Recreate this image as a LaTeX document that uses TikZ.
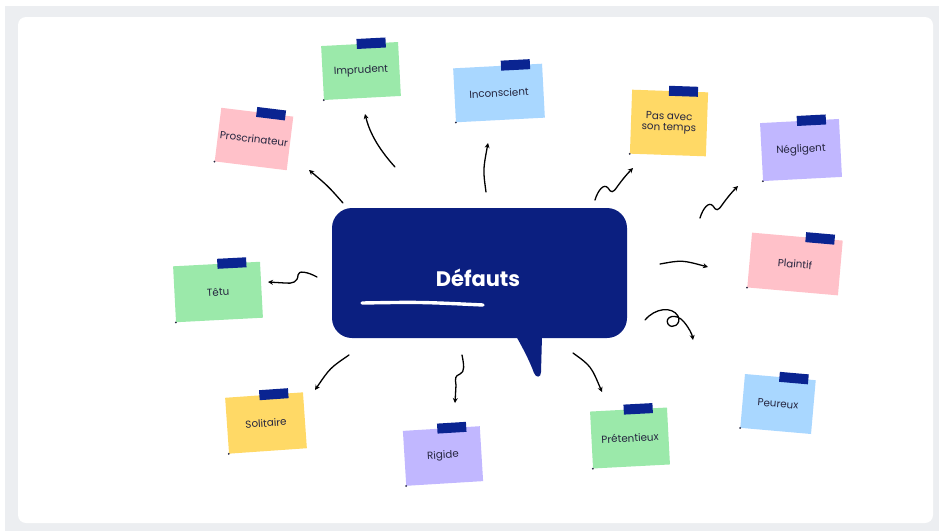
\documentclass[tikz,border=0pt]{standalone}
\usepackage{fontspec}
\setmainfont{Poppins}
\usetikzlibrary{calc}
\usetikzlibrary{positioning}
\usetikzlibrary{arrows.meta}

\definecolor{navy}{HTML}{0B1F80}
\definecolor{tapeblue}{HTML}{0A2491}
\definecolor{mint}{HTML}{9BE9AA}
\definecolor{rose}{HTML}{FFC1C9}
\definecolor{sky}{HTML}{A9D7FF}
\definecolor{butter}{HTML}{FFD966}
\definecolor{lilac}{HTML}{C1B7FF}
\definecolor{ink}{HTML}{25253F}
\definecolor{frame}{HTML}{ECEEF1}

\begin{document}
\begin{tikzpicture}[x=1pt, y=-1pt, >={Stealth[length=5pt,width=5pt]}, font=\fontsize{10.3}{11}\selectfont]
	\tikzstyle{note}=[rectangle, inner sep=2pt, text=ink, align=center]
	\tikzstyle{tape}=[rectangle, fill=tapeblue, minimum width=29pt, minimum height=10pt, inner sep=0pt]
	\tikzstyle{curl}=[circle, fill=ink, minimum size=2pt, inner sep=0pt]
	\tikzstyle{arrow}=[->, draw=black, line width=1.3pt, line cap=round]
	\tikzstyle{bubble}=[rectangle, fill=navy, rounded corners=20pt, minimum width=295pt, minimum height=130pt]

	\useasboundingbox (0,0) rectangle (939,531);
	\fill[frame] (5,6) rectangle (939,531);
	\fill[white, rounded corners=8pt] (18,17) rectangle (933,523);

	% speech bubble in the middle
	\node[bubble] (defauts) at (479.5,273) {};
	\fill[navy] (516,336) .. controls (524,350) and (530,362) .. (534,373) .. controls (536,378) and (541,378) .. (541,372) -- (542,336) -- cycle;
	\node[text=white, font=\fontsize{21}{25}\selectfont\bfseries] (titre) at (478,278) {Défauts};
	\draw[white, line width=3.4pt, line cap=round] (362,303) .. controls (420,302) .. (483,305);

	% sticky notes
	\node[note, fill=rose, minimum width=72pt, minimum height=54pt, rotate=-7] (proscri) at (254,139) {Proscrinateur};
	\node[note, fill=mint, minimum width=77pt, minimum height=54pt, rotate=3] (imprudent) at (361,71) {Imprudent};
	\node[note, fill=sky, minimum width=89pt, minimum height=54pt, rotate=3] (inconscient) at (499,93) {Inconscient};
	\node[note, fill=butter, minimum width=76pt, minimum height=64pt, rotate=-2] (pasavec) at (669,123) {Pas avec\\son temps};
	\node[note, fill=lilac, minimum width=79pt, minimum height=58pt, rotate=3] (negligent) at (801,150) {Négligent};
	\node[note, fill=rose, minimum width=91pt, minimum height=55pt, rotate=-5] (plaintif) at (795,264) {Plaintif};
	\node[note, fill=sky, minimum width=71pt, minimum height=54pt, rotate=-5] (peureux) at (778,404) {Peureux};
	\node[note, fill=mint, minimum width=77pt, minimum height=57pt, rotate=3] (pretentieux) at (630,438) {Prétentieux};
	\node[note, fill=lilac, minimum width=77pt, minimum height=55pt, rotate=3.5] (rigide) at (443,456) {Rigide};
	\node[note, fill=butter, minimum width=78pt, minimum height=56pt, rotate=4] (solitaire) at (266,423) {Solitaire};
	\node[note, fill=mint, minimum width=87pt, minimum height=56pt, rotate=3] (tetu) at (218,292) {Têtu};

	% tapes and corners
	\node[tape, rotate=-7] (proscritape) at ($(proscri.north)!0.38!(proscri.north east)$) {};
	\node[tape, rotate=3] (imprudenttape) at ($(imprudent.north)!0.3!(imprudent.north east)$) {};
	\node[tape, rotate=3] (inconscienttape) at ($(inconscient.north)!0.4!(inconscient.north east)$) {};
	\node[tape, rotate=-2] (pasavectape) at ($(pasavec.north)!0.35!(pasavec.north east)$) {};
	\node[tape, rotate=3] (negligenttape) at ($(negligent.north)!0.3!(negligent.north east)$) {};
	\node[tape, rotate=-5] (plaintiftape) at ($(plaintif.north)!0.5!(plaintif.north east)$) {};
	\node[tape, rotate=-5] (peureuxtape) at ($(peureux.north)!0.38!(peureux.north east)$) {};
	\node[tape, rotate=3] (pretentieuxtape) at ($(pretentieux.north)!0.25!(pretentieux.north east)$) {};
	\node[tape, rotate=3.5] (rigidetape) at ($(rigide.north)!0.27!(rigide.north east)$) {};
	\node[tape, rotate=4] (solitairetape) at ($(solitaire.north)!0.25!(solitaire.north east)$) {};
	\node[tape, rotate=3] (tetutape) at ($(tetu.north)!0.35!(tetu.north east)$) {};
	\foreach \n in {proscri, imprudent, inconscient, pasavec, negligent, plaintif, peureux, pretentieux, rigide, solitaire, tetu}
		\node[curl] (\n curl) at (\n.south west) {};

	% hand drawn arrows
	\coordinate (s1) at (343,203); \coordinate (e1) at (309,170);
	\coordinate (s2) at (395,167); \coordinate (e2) at (365,114);
	\coordinate (s3) at (486,192); \coordinate (e3) at (488,143);
	\coordinate (s4) at (595,200); \coordinate (e4) at (633,168);
	\coordinate (s5) at (700,218); \coordinate (e5) at (738,186);
	\coordinate (s6) at (660,264); \coordinate (e6) at (708,267);
	\coordinate (s7) at (645,320); \coordinate (e7) at (693,340);
	\coordinate (s8) at (573,353); \coordinate (e8) at (602,392);
	\coordinate (s9) at (462,355); \coordinate (e9) at (455,403);
	\coordinate (s10) at (349,355); \coordinate (e10) at (315,390);
	\coordinate (s11) at (317,277); \coordinate (e11) at (268,282);

	\draw[arrow] (s1) .. controls (328,186) .. (e1);
	\draw[arrow] (s2) .. controls (376,146) and (369,130) .. (e2);
	\draw[arrow] (s3) .. controls (483,170) .. (e3);
	\draw[arrow] (s4) .. controls (598,190) and (604,183) .. (608,188) .. controls (611,193) and (613,193) .. (617,187) .. controls (622,180) and (627,174) .. (e4);
	\draw[arrow] (s5) .. controls (703,208) and (709,201) .. (713,206) .. controls (716,211) and (718,211) .. (722,205) .. controls (727,198) and (732,192) .. (e5);
	\draw[arrow] (s6) .. controls (682,260) .. (e6);
	\draw[arrow] (s7) .. controls (655,308) and (672,306) .. (678,316) .. controls (682,324) and (672,330) .. (668,324) .. controls (664,317) and (676,312) .. (684,322) .. controls (689,328) and (692,334) .. (e7);
	\draw[arrow] (s8) .. controls (591,366) .. (e8);
	\draw[arrow] (s9) .. controls (464,365) and (465,372) .. (460,374) .. controls (455,376) and (455,378) .. (456,385) -- (e9);
	\draw[arrow] (s10) .. controls (330,368) .. (e10);
	\draw[arrow] (s11) .. controls (308,272) and (298,270) .. (298,275) .. controls (298,282) and (292,284) .. (285,283) -- (e11);
\end{tikzpicture}
\end{document}
